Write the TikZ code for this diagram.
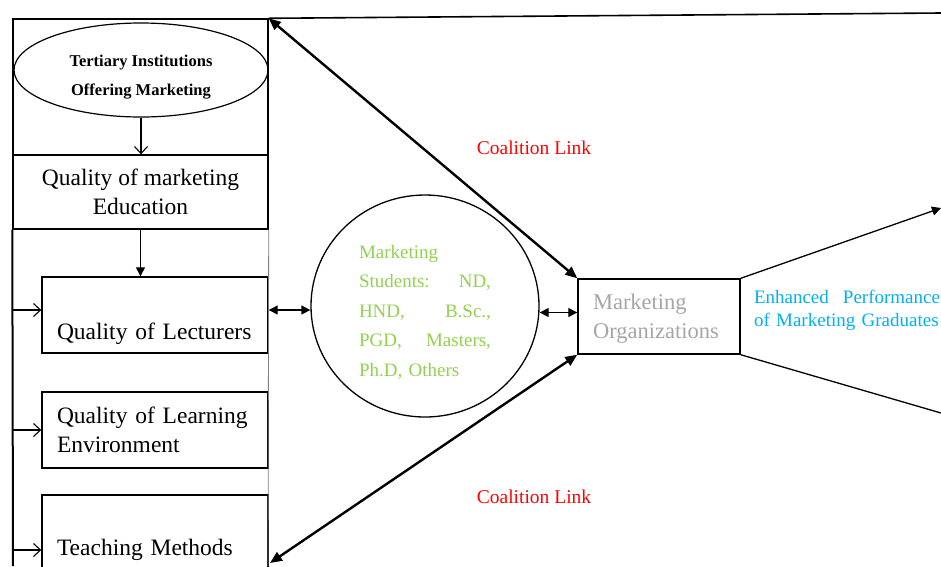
\documentclass[tikz,border=0pt]{standalone}
\usepackage{fontspec}
\setmainfont{Liberation Serif}
\usetikzlibrary{arrows.meta,shapes.geometric}
\definecolor{studgreen}{HTML}{92D050}
\definecolor{orggray}{HTML}{A6A6A6}
\definecolor{gradblue}{HTML}{00B0F0}

\begin{document}
\begin{tikzpicture}[x=1pt, y=-1pt,
        box/.style={draw, line width=1.4pt, rectangle, inner sep=0pt},
        bigtext/.style={font=\fontsize{23.5}{29}\selectfont},
        midtext/.style={font=\fontsize{19}{29.5}\selectfont},
        into/.style={-{Straight Barb[length=7pt,width=13pt]}, line width=1.1pt},
        down/.style={-{Triangle[length=9pt,width=9pt]}, line width=1.3pt},
        both/.style={{Triangle[length=9pt,width=9pt]}-{Triangle[length=9pt,width=9pt]}, line width=1.3pt},
        coalition/.style={{Triangle[length=12pt,width=10pt]}-{Triangle[length=12pt,width=10pt]}, line width=2.4pt},
        link/.style={text=red, font=\fontsize{19.5}{23}\selectfont}]
    \useasboundingbox (0,0) rectangle (941,566);
    \clip (0,0) rectangle (941,566);

    % left column
    \node[box, minimum width=255pt, minimum height=136pt] (frame) at (140.5,87) {};
    \node[draw, ellipse, line width=1.2pt, inner sep=0pt,
          minimum width=254pt, minimum height=94pt, align=center,
          font=\bfseries\fontsize{16.5}{29}\selectfont] (tert) at (141,70)
          {\rule{0pt}{25pt}Tertiary Institutions\\Offering Marketing};
    \node[box, bigtext, minimum width=255pt, minimum height=74pt,
          align=center] (edu) at (140.5,192) {Quality of marketing\\Education};
    \node[box, bigtext, minimum width=226pt, minimum height=76pt, text width=196pt,
          align=left, text height=48pt, text depth=0pt] (lect) at (155,315) {Quality of Lecturers};
    \node[box, bigtext, minimum width=226pt, minimum height=76pt, text width=196pt,
          align=left] (env) at (155,430) {Quality of Learning\\Environment};
    \node[box, bigtext, minimum width=226pt, minimum height=110pt, text width=196pt,
          align=left] (teach) at (155,550) {Teaching Methods};

    % middle and right
    \node[draw, ellipse, line width=1.3pt, inner sep=0pt, minimum width=228pt,
          minimum height=222pt, text width=132pt, align=left, midtext,
          text=studgreen] (stud) at (425,306)
          {\rule{0pt}{25pt}Marketing\\Students:\hfill ND,\\HND,\hfill B.Sc.,\\PGD,\hfill Masters,\\Ph.D, Others};
    \node[box, font=\fontsize{22.5}{29}\selectfont, text=orggray, minimum width=162pt,
          minimum height=75pt, text width=132pt, align=left] (org) at (659,316.5)
          {\rule{0pt}{20pt}Marketing\\Organizations};
    \node[text=gradblue, font=\fontsize{19}{23}\selectfont, text width=186pt,
          align=left, inner sep=0pt] (grad) at (847,310)
          {Enhanced\hfill Performance\\of Marketing Graduates};
    \node[link] (linktop) at (534,148) {Coalition Link};
    \node[link] (linkbot) at (534,497) {Coalition Link};

    \coordinate (spinebot) at (13,566);
    \coordinate (rightbot) at (268,566);
    \coordinate (teachend) at (270,563);
    \coordinate (topend) at (941,13);
    \coordinate (outtop) at (941,208);
    \coordinate (outbot) at (941,413);
    \coordinate (lectin) at ([yshift=5pt]lect.west);
    \coordinate (lectout) at ([yshift=5pt]lect.east);
    \coordinate (orgin) at ([yshift=4pt]org.west);

    \draw[line width=2pt] (edu.south west) -- (spinebot);
    \draw[line width=0.8pt, gray] (edu.south east) -- (rightbot);
    \draw[line width=1.6pt] (frame.north east) -- (topend);

    \draw[into] (tert.south) -- (tert.south |- edu.north);
    \draw[down] (edu.south) -- (edu.south |- lect.north);
    \draw[into] (lectin -| spinebot) -- (lectin);
    \draw[into] (env.west -| spinebot) -- (env.west);
    \draw[into] (teach.west -| spinebot) -- (teach.west);

    \draw[both] (lectout) -- (lectout -| stud.west);
    \draw[both] (orgin -| stud.east) -- (orgin);
    \draw[coalition] (frame.north east) -- (org.north west);   %upper link
    \draw[coalition] (teachend) -- (org.south west);          %lower link

    \draw[line width=1.3pt, -{Triangle[length=9pt,width=9pt]}] (org.north east) -- (outtop);
    \draw[line width=1.3pt] (org.south east) -- (outbot);
\end{tikzpicture}
\end{document}
